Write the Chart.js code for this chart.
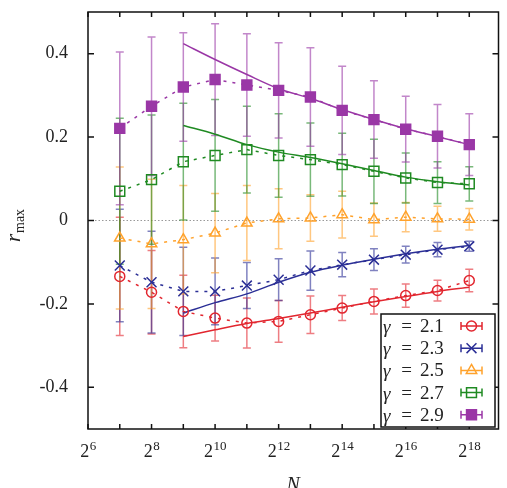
<!DOCTYPE html>
<html>
<head>
<meta charset="utf-8">
<script src="https://cdn.jsdelivr.net/npm/chart.js@4/dist/chart.umd.min.js"></script>
<style>
  body { margin: 0; background: #fff; }
  canvas { display: block; }
</style>
</head>
<body>
<canvas id="c" width="507" height="488"></canvas>
<script>
'use strict';

// system sizes N = 2^7 .. 2^18
const sizes = [128, 256, 512, 1024, 2048, 4096, 8192, 16384, 32768, 65536, 131072, 262144];
const gammas = ['2.1', '2.3', '2.5', '2.7', '2.9'];
const yTicks = [-0.4, -0.2, 0, 0.2, 0.4];
const xTickExps = [6, 7, 8, 9, 10, 11, 12, 13, 14, 15, 16, 17, 18];
const xLabelExps = [6, 8, 10, 12, 14, 16, 18];

// r_max values and error bars
const r21 = [-0.134, -0.172, -0.218, -0.234, -0.246, -0.242, -0.226, -0.21, -0.194, -0.18, -0.168, -0.144];
const e21 = [0.142, 0.1, 0.087, 0.055, 0.06, 0.05, 0.045, 0.03, 0.03, 0.028, 0.025, 0.027];
const r23 = [-0.108, -0.148, -0.17, -0.17, -0.156, -0.142, -0.12, -0.106, -0.094, -0.082, -0.07, -0.062];
const e23 = [0.135, 0.122, 0.106, 0.08, 0.055, 0.05, 0.047, 0.029, 0.026, 0.02, 0.017, 0.012];
const r25 = [-0.042, -0.056, -0.046, -0.03, -0.006, 0.004, 0.006, 0.014, 0.002, 0.008, 0.004, 0.003];
const e25 = [0.17, 0.155, 0.13, 0.095, 0.09, 0.072, 0.056, 0.056, 0.04, 0.035, 0.03, 0.026];
const r27 = [0.07, 0.098, 0.141, 0.156, 0.17, 0.156, 0.146, 0.134, 0.118, 0.102, 0.091, 0.088];
const e27 = [0.175, 0.155, 0.14, 0.134, 0.104, 0.1, 0.088, 0.075, 0.077, 0.06, 0.05, 0.041];
const r29 = [0.221, 0.274, 0.32, 0.338, 0.325, 0.312, 0.296, 0.264, 0.242, 0.219, 0.202, 0.182];
const e29 = [0.183, 0.166, 0.13, 0.134, 0.123, 0.114, 0.118, 0.106, 0.093, 0.079, 0.076, 0.074];

// fitted curves, N = 2^9 .. 2^18
const fitSizes = sizes.slice(2);
const f21 = [-0.278, -0.262, -0.247, -0.235, -0.222, -0.208, -0.195, -0.182, -0.17, -0.16];
const f23 = [-0.222, -0.197, -0.176, -0.148, -0.124, -0.107, -0.093, -0.08, -0.069, -0.06];
const f27 = [0.228, 0.207, 0.182, 0.164, 0.151, 0.136, 0.12, 0.104, 0.093, 0.085];
const f29 = [0.424, 0.386, 0.35, 0.316, 0.293, 0.266, 0.242, 0.22, 0.201, 0.182];

const series = [
    { r: r21, e: e21, fit: f21, color: '#e2262f', style: 'circle', size: 5, fill: false },
    { r: r23, e: e23, fit: f23, color: '#2b2f96', style: 'crossRot', size: 7, fill: false },
    { r: r25, e: e25, fit: null, color: '#ffa22c', style: 'triangle', size: 6, fill: false },
    { r: r27, e: e27, fit: f27, color: '#1f8a22', style: 'rect', size: 7, fill: false },
    { r: r29, e: e29, fit: f29, color: '#9a37a6', style: 'rect', size: 7, fill: true },
];

const SERIF = '"Liberation Serif", "DejaVu Serif", serif';

function alpha(hex, a) {
    const n = parseInt(hex.slice(1), 16);
    return 'rgba(' + (n >> 16) + ',' + ((n >> 8) & 255) + ',' + (n & 255) + ',' + a + ')';
}

const datasets = [];
series.forEach(function(s) {
    datasets.push({
        data: sizes.map(function(n, i) { return { x: n, y: s.r[i] }; }),
        showLine: true,
        borderColor: s.color,
        borderWidth: 1.5,
        borderDash: [3, 6],
        pointStyle: s.style,
        pointRadius: s.size,
        pointBorderWidth: 1.5,
        pointBorderColor: s.color,
        pointBackgroundColor: s.fill ? s.color : 'rgba(0,0,0,0)',
    });
    if (s.fit) {
        datasets.push({
            data: fitSizes.map(function(n, i) { return { x: n, y: s.fit[i] }; }),
            showLine: true,
            borderColor: s.color,
            borderWidth: 1.5,
            pointRadius: 0,
            cubicInterpolationMode: 'monotone',
        });
    }
});

// error bars and the dotted zero line
const errBars = {
    id: 'errBars',
    beforeDatasetsDraw(chart) {
        const ctx = chart.ctx, xs = chart.scales.x, ys = chart.scales.y, a = chart.chartArea;
        ctx.save();
        ctx.strokeStyle = '#999';
        ctx.lineWidth = 1.2;
        ctx.setLineDash([1.5, 2]);
        ctx.beginPath();
        ctx.moveTo(a.left, ys.getPixelForValue(0));
        ctx.lineTo(a.right, ys.getPixelForValue(0));
        ctx.stroke();
        ctx.setLineDash([]);
        series.forEach(function(s) {
            ctx.strokeStyle = alpha(s.color, 0.6);
            ctx.lineWidth = 1.5;
            sizes.forEach(function(n, i) {
                const px = xs.getPixelForValue(n);
                const top = ys.getPixelForValue(s.r[i] + s.e[i]);
                const bot = ys.getPixelForValue(s.r[i] - s.e[i]);
                ctx.beginPath();
                ctx.moveTo(px, top); ctx.lineTo(px, bot);
                ctx.moveTo(px - 4, top); ctx.lineTo(px + 4, top);
                ctx.moveTo(px - 4, bot); ctx.lineTo(px + 4, bot);
                ctx.stroke();
            });
        });
        ctx.restore();
    }
};

// frame, inward ticks, x labels, axis titles, legend
const decor = {
    id: 'decor',
    afterDraw(chart) {
        const ctx = chart.ctx, xs = chart.scales.x, ys = chart.scales.y, a = chart.chartArea;
        ctx.save();
        ctx.strokeStyle = '#111';
        ctx.lineWidth = 1.5;
        ctx.strokeRect(a.left, a.top, a.right - a.left, a.bottom - a.top);
        ctx.beginPath();
        xTickExps.forEach(function(e) {
            const px = xs.getPixelForValue(Math.pow(2, e));
            ctx.moveTo(px, a.bottom); ctx.lineTo(px, a.bottom - 5);
            ctx.moveTo(px, a.top); ctx.lineTo(px, a.top + 5);
        });
        yTicks.forEach(function(v) {
            const py = ys.getPixelForValue(v);
            ctx.moveTo(a.left, py); ctx.lineTo(a.left + 6, py);
            ctx.moveTo(a.right, py); ctx.lineTo(a.right - 6, py);
        });
        ctx.stroke();

        // x tick labels 2^e
        ctx.fillStyle = '#222';
        ctx.textBaseline = 'alphabetic';
        xLabelExps.forEach(function(e) {
            const px = xs.getPixelForValue(Math.pow(2, e));
            ctx.font = '18px ' + SERIF;
            const w1 = ctx.measureText('2').width;
            ctx.font = '13px ' + SERIF;
            const w2 = ctx.measureText(String(e)).width;
            const x0 = px - (w1 + w2) / 2;
            ctx.font = '18px ' + SERIF;
            ctx.textAlign = 'left';
            ctx.fillText('2', x0, 457);
            ctx.font = '13px ' + SERIF;
            ctx.fillText(String(e), x0 + w1 + 0.5, 450);
        });

        // x title
        ctx.font = 'italic 20px ' + SERIF;
        ctx.textAlign = 'center';
        ctx.fillText('N', (a.left + a.right) / 2, 491);

        // y title r_max
        ctx.save();
        ctx.translate(20, 222);
        ctx.rotate(-Math.PI / 2);
        ctx.textAlign = 'left';
        ctx.font = 'italic 21px ' + SERIF;
        ctx.fillText('r', -20, 0);
        ctx.font = '14px ' + SERIF;
        ctx.fillText('max', -11, 4);
        ctx.restore();

        // legend
        const bx = 381, by = 314, bw = 114, bh = 113;
        ctx.fillStyle = '#fff';
        ctx.fillRect(bx, by, bw, bh);
        ctx.strokeStyle = '#111';
        ctx.lineWidth = 1.5;
        ctx.strokeRect(bx, by, bw, bh);
        series.forEach(function(s, i) {
            const cy = 326 + i * 22.2;
            ctx.fillStyle = '#222';
            ctx.textBaseline = 'middle';
            ctx.textAlign = 'left';
            ctx.font = 'italic 19px ' + SERIF;
            ctx.fillText('\u03b3', 383, cy + 2);
            ctx.textAlign = 'center';
            ctx.font = '19px ' + SERIF;
            ctx.fillText('=', 406.5, cy + 1);
            ctx.textAlign = 'left';
            ctx.fillText(gammas[i], 420, cy + 1);
            // symbol: horizontal error bar with marker
            ctx.strokeStyle = s.color;
            ctx.lineWidth = 1.5;
            ctx.beginPath();
            ctx.moveTo(461, cy); ctx.lineTo(482, cy);
            ctx.moveTo(461, cy - 4); ctx.lineTo(461, cy + 4);
            ctx.moveTo(482, cy - 4); ctx.lineTo(482, cy + 4);
            ctx.stroke();
            ctx.fillStyle = s.fill ? s.color : 'rgba(0,0,0,0)';
            ctx.strokeStyle = s.color;
            Chart.helpers.drawPoint(ctx, {
                pointStyle: s.style,
                radius: s.size,
                borderWidth: 1.5,
            }, 471.5, cy);
        });
        ctx.restore();
    }
};

new Chart(document.getElementById('c'), {
    type: 'scatter',
    data: { datasets: datasets },
    options: {
        responsive: false,
        animation: false,
        devicePixelRatio: 1,
        layout: { padding: { top: 12, right: 5, left: 0, bottom: 0 } },
        plugins: {
            legend: { display: false },
            tooltip: { enabled: false },
        },
        scales: {
            x: {
                type: 'logarithmic',
                min: 64,
                max: Math.pow(2, 18.92),
                grid: { display: false },
                border: { display: false },
                ticks: { display: false },
                afterBuildTicks: function(scale) {
                    scale.ticks = xTickExps.map(function(e) { return { value: Math.pow(2, e) }; });
                },
                afterFit: function(scale) {
                    scale.height = 59;
                    scale.paddingLeft = 0;
                    scale.paddingRight = 0;
                },
            },
            y: {
                min: -0.5,
                max: 0.5,
                grid: { display: false },
                border: { display: false },
                ticks: {
                    padding: 12,
                    color: '#222',
                    font: { family: SERIF, size: 18 },
                    callback: function(v) { return v === 0 ? '0' : v.toFixed(1); },
                },
                afterBuildTicks: function(scale) {
                    scale.ticks = yTicks.map(function(v) { return { value: v }; });
                },
                afterFit: function(scale) {
                    scale.width = 88;
                    scale.paddingTop = 0;
                    scale.paddingBottom = 0;
                },
            },
        },
    },
    plugins: [errBars, decor],
});
</script>
</body>
</html>
